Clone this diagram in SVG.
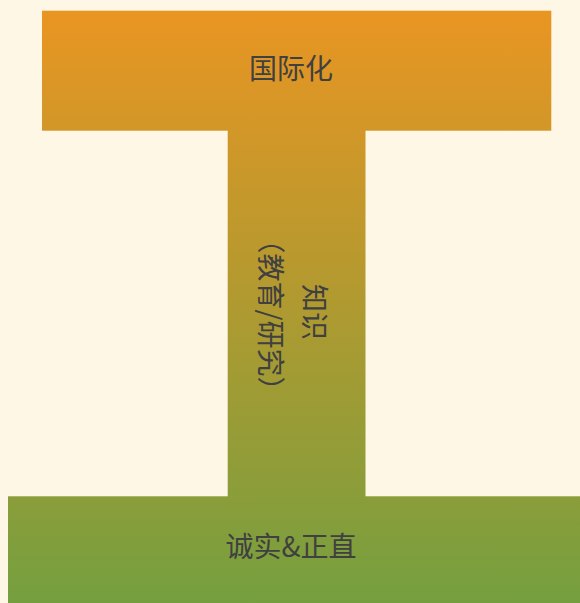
<svg xmlns="http://www.w3.org/2000/svg" width="580" height="603" viewBox="0 0 580 603">
  <defs>
    <linearGradient id="g" gradientUnits="userSpaceOnUse" x1="0" y1="11" x2="0" y2="603">
      <stop offset="0" stop-color="#E99522"/>
      <stop offset="1" stop-color="#759F3F"/>
    </linearGradient>
  </defs>
  <style>
    .bar { fill: url(#g); }
    .lbl { font-family: "Noto Sans CJK SC", "Noto Sans", sans-serif; font-size: 28px; fill: #404040; text-anchor: middle; }
  </style>
  <rect x="0" y="0" width="580" height="603" fill="#FEF7E5"/>
  <g id="connectors"></g>
  <g id="node-stem">
    <rect class="bar" x="227.7" y="130" width="137.8" height="367"/>
    <g transform="translate(292,313) rotate(90)">
      <text class="lbl" x="-1" y="-12">知识</text>
      <text class="lbl" x="2" y="32">（教育/研究）</text>
    </g>
  </g>
  <g id="node-top">
    <rect class="bar" x="42" y="10.7" width="509.3" height="120"/>
    <text class="lbl" x="291" y="79">国际化</text>
  </g>
  <g id="node-bottom">
    <rect class="bar" x="8" y="496.3" width="572" height="106.7"/>
    <text class="lbl" x="291" y="557">诚实&amp;正直</text>
  </g>
</svg>
